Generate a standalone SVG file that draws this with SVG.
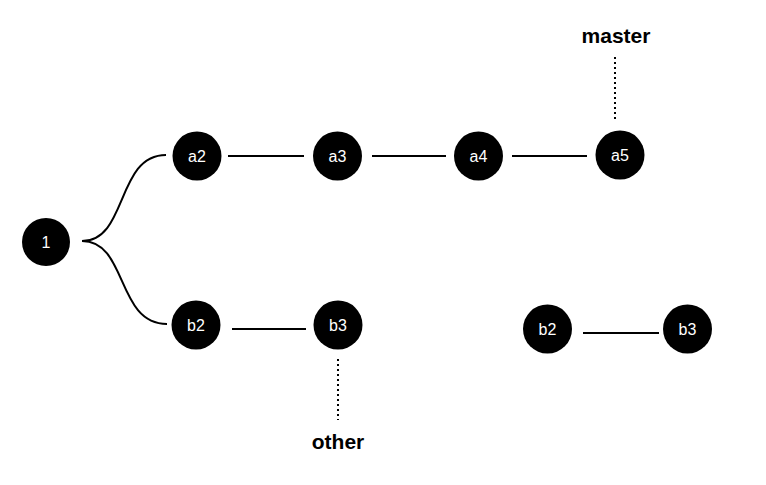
<svg xmlns="http://www.w3.org/2000/svg" width="766" height="485" viewBox="0 0 766 485">
  <style>
    .node circle { fill: #000; }
    .node text { fill: #fff; font-family: "Liberation Sans", Arial, sans-serif; font-size: 16px; text-anchor: middle; dominant-baseline: central; }
    .edge { stroke: #000; stroke-width: 2; fill: none; }
    .ref { stroke: #000; stroke-width: 2; stroke-dasharray: 2 3; fill: none; }
    .label { fill: #000; font-family: "Liberation Sans", Arial, sans-serif; font-weight: bold; font-size: 21px; text-anchor: middle; }
  </style>
  <rect width="766" height="485" fill="#fff"/>

  <g id="connectors">
    <path class="edge" d="M82,241 C128,241 116,155 166,155"/>
    <path class="edge" d="M82,241 C128,241 116,324 167,324"/>
    <line class="edge" x1="228" y1="156" x2="304" y2="156"/>
    <line class="edge" x1="372" y1="156" x2="446" y2="156"/>
    <line class="edge" x1="512" y1="156" x2="587" y2="156"/>
    <line class="edge" x1="232" y1="329" x2="306" y2="329"/>
    <line class="edge" x1="583" y1="333" x2="659" y2="333"/>
    <line class="ref" x1="615" y1="57" x2="615" y2="119"/>
    <line class="ref" x1="338" y1="359" x2="338" y2="420"/>
  </g>

  <g id="n1" class="node"><circle cx="46" cy="242" r="24"/><text x="46" y="242">1</text></g>
  <g id="a2" class="node"><circle cx="197" cy="156" r="24.5"/><text x="197" y="156">a2</text></g>
  <g id="a3" class="node"><circle cx="337.5" cy="156" r="24.5"/><text x="337.5" y="156">a3</text></g>
  <g id="a4" class="node"><circle cx="478.5" cy="156" r="24.5"/><text x="478.5" y="156">a4</text></g>
  <g id="a5" class="node"><circle cx="620" cy="155" r="24.5"/><text x="620" y="155">a5</text></g>
  <g id="b2" class="node"><circle cx="196" cy="325" r="24.5"/><text x="196" y="325">b2</text></g>
  <g id="b3" class="node"><circle cx="338" cy="325" r="24.5"/><text x="338" y="325">b3</text></g>
  <g id="b2-copy" class="node"><circle cx="547.5" cy="329" r="24.5"/><text x="547.5" y="329">b2</text></g>
  <g id="b3-copy" class="node"><circle cx="687.5" cy="329" r="24.5"/><text x="687.5" y="329">b3</text></g>

  <g id="master-label"><text class="label" x="616" y="43">master</text></g>
  <g id="other-label"><text class="label" x="338" y="449">other</text></g>
</svg>
